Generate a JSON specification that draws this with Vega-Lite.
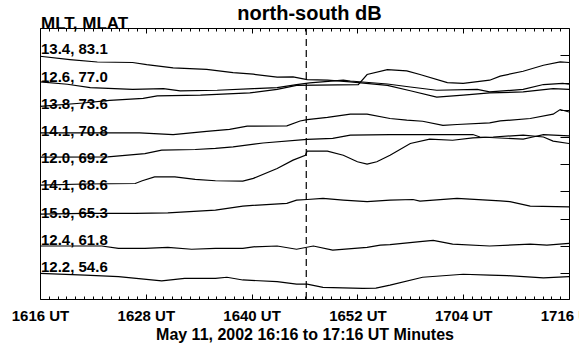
{
  "$schema": "https://vega.github.io/schema/vega-lite/v6.json",
  "width": 529,
  "height": 271,
  "autosize": {"type": "none"},
  "padding": {"left": 40, "top": 28, "right": 10, "bottom": 46},
  "background": "white",
  "config": {
    "font": "Liberation Sans",
    "view": {"stroke": "black", "strokeWidth": 1},
    "axis": {"domain": false, "grid": false, "tickColor": "black", "tickWidth": 1, "labelColor": "black", "titleColor": "black"}
  },
  "datasets": {
    "traces": [
      {"station": "13.4, 83.1", "minute": 0, "value": 8.97},
      {"station": "13.4, 83.1", "minute": 3.4, "value": 8.85},
      {"station": "13.4, 83.1", "minute": 6.5, "value": 8.76},
      {"station": "13.4, 83.1", "minute": 10.5, "value": 8.74},
      {"station": "13.4, 83.1", "minute": 12.1, "value": 8.66},
      {"station": "13.4, 83.1", "minute": 15.1, "value": 8.54},
      {"station": "13.4, 83.1", "minute": 18.9, "value": 8.49},
      {"station": "13.4, 83.1", "minute": 21.9, "value": 8.37},
      {"station": "13.4, 83.1", "minute": 24.2, "value": 8.31},
      {"station": "13.4, 83.1", "minute": 26.9, "value": 8.20},
      {"station": "13.4, 83.1", "minute": 28.7, "value": 8.21},
      {"station": "13.4, 83.1", "minute": 30.3, "value": 8.11},
      {"station": "13.4, 83.1", "minute": 32.6, "value": 8.09},
      {"station": "13.4, 83.1", "minute": 35.2, "value": 8.03},
      {"station": "13.4, 83.1", "minute": 39.4, "value": 7.90},
      {"station": "13.4, 83.1", "minute": 42.0, "value": 7.70},
      {"station": "13.4, 83.1", "minute": 45.0, "value": 7.47},
      {"station": "13.4, 83.1", "minute": 48.0, "value": 7.54},
      {"station": "13.4, 83.1", "minute": 51.0, "value": 7.62},
      {"station": "13.4, 83.1", "minute": 54.8, "value": 7.66},
      {"station": "13.4, 83.1", "minute": 58.2, "value": 7.78},
      {"station": "13.4, 83.1", "minute": 60, "value": 7.75},

      {"station": "12.6, 77.0", "minute": 0, "value": 8.03},
      {"station": "12.6, 77.0", "minute": 3.1, "value": 7.94},
      {"station": "12.6, 77.0", "minute": 5.7, "value": 7.82},
      {"station": "12.6, 77.0", "minute": 10.5, "value": 7.75},
      {"station": "12.6, 77.0", "minute": 14.0, "value": 7.78},
      {"station": "12.6, 77.0", "minute": 15.9, "value": 7.70},
      {"station": "12.6, 77.0", "minute": 20.1, "value": 7.72},
      {"station": "12.6, 77.0", "minute": 24.2, "value": 7.78},
      {"station": "12.6, 77.0", "minute": 26.9, "value": 7.82},
      {"station": "12.6, 77.0", "minute": 29.1, "value": 7.93},
      {"station": "12.6, 77.0", "minute": 30.6, "value": 7.99},
      {"station": "12.6, 77.0", "minute": 34.4, "value": 8.09},
      {"station": "12.6, 77.0", "minute": 35.2, "value": 8.06},
      {"station": "12.6, 77.0", "minute": 39.4, "value": 7.95},
      {"station": "12.6, 77.0", "minute": 42.0, "value": 7.84},
      {"station": "12.6, 77.0", "minute": 45.0, "value": 7.72},
      {"station": "12.6, 77.0", "minute": 49.6, "value": 7.75},
      {"station": "12.6, 77.0", "minute": 51.0, "value": 7.66},
      {"station": "12.6, 77.0", "minute": 54.8, "value": 7.75},
      {"station": "12.6, 77.0", "minute": 57.1, "value": 7.93},
      {"station": "12.6, 77.0", "minute": 59.3, "value": 7.97},
      {"station": "12.6, 77.0", "minute": 60, "value": 7.94},

      {"station": "13.8, 73.6", "minute": 0, "value": 7.13},
      {"station": "13.8, 73.6", "minute": 4.9, "value": 7.25},
      {"station": "13.8, 73.6", "minute": 7.9, "value": 7.35},
      {"station": "13.8, 73.6", "minute": 11.7, "value": 7.42},
      {"station": "13.8, 73.6", "minute": 13.3, "value": 7.51},
      {"station": "13.8, 73.6", "minute": 18.2, "value": 7.54},
      {"station": "13.8, 73.6", "minute": 23.8, "value": 7.62},
      {"station": "13.8, 73.6", "minute": 26.9, "value": 7.75},
      {"station": "13.8, 73.6", "minute": 29.1, "value": 7.90},
      {"station": "13.8, 73.6", "minute": 36.1, "value": 7.93},
      {"station": "13.8, 73.6", "minute": 37.1, "value": 8.30},
      {"station": "13.8, 73.6", "minute": 39.4, "value": 8.48},
      {"station": "13.8, 73.6", "minute": 41.6, "value": 8.43},
      {"station": "13.8, 73.6", "minute": 43.1, "value": 8.30},
      {"station": "13.8, 73.6", "minute": 46.2, "value": 8.00},
      {"station": "13.8, 73.6", "minute": 48.0, "value": 7.97},
      {"station": "13.8, 73.6", "minute": 51.0, "value": 8.09},
      {"station": "13.8, 73.6", "minute": 52.2, "value": 8.24},
      {"station": "13.8, 73.6", "minute": 54.8, "value": 8.42},
      {"station": "13.8, 73.6", "minute": 57.1, "value": 8.64},
      {"station": "13.8, 73.6", "minute": 59.0, "value": 8.76},
      {"station": "13.8, 73.6", "minute": 60, "value": 8.74},

      {"station": "14.1, 70.8", "minute": 0, "value": 6.15},
      {"station": "14.1, 70.8", "minute": 6.8, "value": 6.15},
      {"station": "14.1, 70.8", "minute": 11.3, "value": 6.15},
      {"station": "14.1, 70.8", "minute": 15.1, "value": 6.09},
      {"station": "14.1, 70.8", "minute": 18.9, "value": 6.21},
      {"station": "14.1, 70.8", "minute": 21.5, "value": 6.28},
      {"station": "14.1, 70.8", "minute": 23.5, "value": 6.40},
      {"station": "14.1, 70.8", "minute": 28.0, "value": 6.41},
      {"station": "14.1, 70.8", "minute": 29.5, "value": 6.59},
      {"station": "14.1, 70.8", "minute": 30.3, "value": 6.64},
      {"station": "14.1, 70.8", "minute": 32.6, "value": 6.72},
      {"station": "14.1, 70.8", "minute": 35.2, "value": 6.84},
      {"station": "14.1, 70.8", "minute": 37.1, "value": 6.84},
      {"station": "14.1, 70.8", "minute": 39.7, "value": 6.68},
      {"station": "14.1, 70.8", "minute": 41.6, "value": 6.62},
      {"station": "14.1, 70.8", "minute": 43.4, "value": 6.58},
      {"station": "14.1, 70.8", "minute": 45.7, "value": 6.43},
      {"station": "14.1, 70.8", "minute": 47.3, "value": 6.46},
      {"station": "14.1, 70.8", "minute": 51.0, "value": 6.52},
      {"station": "14.1, 70.8", "minute": 52.2, "value": 6.59},
      {"station": "14.1, 70.8", "minute": 55.6, "value": 6.68},
      {"station": "14.1, 70.8", "minute": 58.2, "value": 6.84},
      {"station": "14.1, 70.8", "minute": 59.0, "value": 7.01},
      {"station": "14.1, 70.8", "minute": 60, "value": 6.92},

      {"station": "12.0, 69.2", "minute": 0, "value": 5.26},
      {"station": "12.0, 69.2", "minute": 7.7, "value": 5.27},
      {"station": "12.0, 69.2", "minute": 11.9, "value": 5.39},
      {"station": "12.0, 69.2", "minute": 13.8, "value": 5.52},
      {"station": "12.0, 69.2", "minute": 17.6, "value": 5.54},
      {"station": "12.0, 69.2", "minute": 19.9, "value": 5.58},
      {"station": "12.0, 69.2", "minute": 21.9, "value": 5.64},
      {"station": "12.0, 69.2", "minute": 25.3, "value": 5.78},
      {"station": "12.0, 69.2", "minute": 30.3, "value": 5.91},
      {"station": "12.0, 69.2", "minute": 33.2, "value": 5.95},
      {"station": "12.0, 69.2", "minute": 35.2, "value": 6.07},
      {"station": "12.0, 69.2", "minute": 39.7, "value": 6.09},
      {"station": "12.0, 69.2", "minute": 49.1, "value": 6.09},
      {"station": "12.0, 69.2", "minute": 49.9, "value": 6.00},
      {"station": "12.0, 69.2", "minute": 54.8, "value": 5.92},
      {"station": "12.0, 69.2", "minute": 55.9, "value": 6.00},
      {"station": "12.0, 69.2", "minute": 57.1, "value": 6.09},
      {"station": "12.0, 69.2", "minute": 60, "value": 6.04},

      {"station": "14.1, 68.6", "minute": 0, "value": 4.23},
      {"station": "14.1, 68.6", "minute": 5.1, "value": 4.27},
      {"station": "14.1, 68.6", "minute": 10.8, "value": 4.29},
      {"station": "14.1, 68.6", "minute": 11.6, "value": 4.39},
      {"station": "14.1, 68.6", "minute": 13.0, "value": 4.53},
      {"station": "14.1, 68.6", "minute": 15.3, "value": 4.53},
      {"station": "14.1, 68.6", "minute": 17.6, "value": 4.44},
      {"station": "14.1, 68.6", "minute": 19.9, "value": 4.39},
      {"station": "14.1, 68.6", "minute": 23.0, "value": 4.38},
      {"station": "14.1, 68.6", "minute": 24.2, "value": 4.48},
      {"station": "14.1, 68.6", "minute": 26.9, "value": 4.84},
      {"station": "14.1, 68.6", "minute": 28.7, "value": 5.15},
      {"station": "14.1, 68.6", "minute": 30.1, "value": 5.33},
      {"station": "14.1, 68.6", "minute": 30.3, "value": 5.48},
      {"station": "14.1, 68.6", "minute": 32.6, "value": 5.48},
      {"station": "14.1, 68.6", "minute": 34.4, "value": 5.33},
      {"station": "14.1, 68.6", "minute": 36.0, "value": 5.09},
      {"station": "14.1, 68.6", "minute": 37.1, "value": 5.00},
      {"station": "14.1, 68.6", "minute": 38.2, "value": 5.09},
      {"station": "14.1, 68.6", "minute": 39.7, "value": 5.33},
      {"station": "14.1, 68.6", "minute": 42.0, "value": 5.76},
      {"station": "14.1, 68.6", "minute": 44.2, "value": 5.92},
      {"station": "14.1, 68.6", "minute": 46.8, "value": 5.88},
      {"station": "14.1, 68.6", "minute": 49.1, "value": 5.97},
      {"station": "14.1, 68.6", "minute": 51.4, "value": 6.00},
      {"station": "14.1, 68.6", "minute": 54.8, "value": 6.07},
      {"station": "14.1, 68.6", "minute": 57.1, "value": 6.00},
      {"station": "14.1, 68.6", "minute": 58.2, "value": 5.85},
      {"station": "14.1, 68.6", "minute": 60, "value": 5.76},

      {"station": "15.9, 65.3", "minute": 0, "value": 3.16},
      {"station": "15.9, 65.3", "minute": 5.1, "value": 3.19},
      {"station": "15.9, 65.3", "minute": 10.8, "value": 3.19},
      {"station": "15.9, 65.3", "minute": 14.5, "value": 3.21},
      {"station": "15.9, 65.3", "minute": 19.9, "value": 3.31},
      {"station": "15.9, 65.3", "minute": 23.0, "value": 3.46},
      {"station": "15.9, 65.3", "minute": 28.0, "value": 3.56},
      {"station": "15.9, 65.3", "minute": 29.1, "value": 3.68},
      {"station": "15.9, 65.3", "minute": 30.3, "value": 3.70},
      {"station": "15.9, 65.3", "minute": 32.1, "value": 3.74},
      {"station": "15.9, 65.3", "minute": 34.4, "value": 3.68},
      {"station": "15.9, 65.3", "minute": 37.1, "value": 3.62},
      {"station": "15.9, 65.3", "minute": 39.7, "value": 3.68},
      {"station": "15.9, 65.3", "minute": 42.3, "value": 3.70},
      {"station": "15.9, 65.3", "minute": 43.1, "value": 3.64},
      {"station": "15.9, 65.3", "minute": 47.3, "value": 3.74},
      {"station": "15.9, 65.3", "minute": 52.2, "value": 3.65},
      {"station": "15.9, 65.3", "minute": 53.3, "value": 3.62},
      {"station": "15.9, 65.3", "minute": 55.6, "value": 3.46},
      {"station": "15.9, 65.3", "minute": 60, "value": 3.43},

      {"station": "12.4, 61.8", "minute": 0, "value": 1.99},
      {"station": "12.4, 61.8", "minute": 7.0, "value": 1.99},
      {"station": "12.4, 61.8", "minute": 8.9, "value": 1.90},
      {"station": "12.4, 61.8", "minute": 11.9, "value": 1.90},
      {"station": "12.4, 61.8", "minute": 14.5, "value": 1.94},
      {"station": "12.4, 61.8", "minute": 17.2, "value": 1.87},
      {"station": "12.4, 61.8", "minute": 19.9, "value": 1.90},
      {"station": "12.4, 61.8", "minute": 23.0, "value": 1.90},
      {"station": "12.4, 61.8", "minute": 24.2, "value": 1.96},
      {"station": "12.4, 61.8", "minute": 26.9, "value": 1.99},
      {"station": "12.4, 61.8", "minute": 29.1, "value": 1.87},
      {"station": "12.4, 61.8", "minute": 31.0, "value": 1.99},
      {"station": "12.4, 61.8", "minute": 33.2, "value": 1.84},
      {"station": "12.4, 61.8", "minute": 37.1, "value": 1.94},
      {"station": "12.4, 61.8", "minute": 38.6, "value": 2.02},
      {"station": "12.4, 61.8", "minute": 39.7, "value": 2.04},
      {"station": "12.4, 61.8", "minute": 43.1, "value": 2.15},
      {"station": "12.4, 61.8", "minute": 44.6, "value": 2.20},
      {"station": "12.4, 61.8", "minute": 46.8, "value": 2.06},
      {"station": "12.4, 61.8", "minute": 51.0, "value": 1.99},
      {"station": "12.4, 61.8", "minute": 55.6, "value": 2.06},
      {"station": "12.4, 61.8", "minute": 57.5, "value": 2.02},
      {"station": "12.4, 61.8", "minute": 60, "value": 2.09},

      {"station": "12.2, 54.6", "minute": 0, "value": 0.98},
      {"station": "12.2, 54.6", "minute": 5.1, "value": 0.92},
      {"station": "12.2, 54.6", "minute": 8.9, "value": 0.86},
      {"station": "12.2, 54.6", "minute": 13.8, "value": 0.71},
      {"station": "12.2, 54.6", "minute": 16.4, "value": 0.80},
      {"station": "12.2, 54.6", "minute": 19.9, "value": 0.80},
      {"station": "12.2, 54.6", "minute": 21.2, "value": 0.84},
      {"station": "12.2, 54.6", "minute": 23.0, "value": 0.74},
      {"station": "12.2, 54.6", "minute": 26.9, "value": 0.68},
      {"station": "12.2, 54.6", "minute": 29.1, "value": 0.59},
      {"station": "12.2, 54.6", "minute": 30.3, "value": 0.59},
      {"station": "12.2, 54.6", "minute": 32.1, "value": 0.47},
      {"station": "12.2, 54.6", "minute": 36.6, "value": 0.43},
      {"station": "12.2, 54.6", "minute": 38.1, "value": 0.44},
      {"station": "12.2, 54.6", "minute": 39.7, "value": 0.55},
      {"station": "12.2, 54.6", "minute": 43.4, "value": 0.84},
      {"station": "12.2, 54.6", "minute": 48.0, "value": 0.95},
      {"station": "12.2, 54.6", "minute": 51.0, "value": 0.92},
      {"station": "12.2, 54.6", "minute": 53.0, "value": 0.90},
      {"station": "12.2, 54.6", "minute": 57.1, "value": 0.82},
      {"station": "12.2, 54.6", "minute": 60, "value": 0.86}
    ],
    "labels": [
      {"label": "13.4, 83.1", "level": 9, "minute": 0},
      {"label": "12.6, 77.0", "level": 8, "minute": 0},
      {"label": "13.8, 73.6", "level": 7, "minute": 0},
      {"label": "14.1, 70.8", "level": 6, "minute": 0},
      {"label": "12.0, 69.2", "level": 5, "minute": 0},
      {"label": "14.1, 68.6", "level": 4, "minute": 0},
      {"label": "15.9, 65.3", "level": 3, "minute": 0},
      {"label": "12.4, 61.8", "level": 2, "minute": 0},
      {"label": "12.2, 54.6", "level": 1, "minute": 0}
    ],
    "event": [{"minute": 30.2}]
  },
  "layer": [
    {
      "data": {"name": "traces"},
      "mark": {"type": "line", "color": "black", "strokeWidth": 1.2},
      "encoding": {
        "x": {
          "field": "minute", "type": "quantitative",
          "scale": {"domain": [0, 60], "nice": false, "zero": false},
          "axis": {
            "orient": "bottom",
            "values": [0,1,2,3,4,5,6,7,8,9,10,11,12,13,14,15,16,17,18,19,20,21,22,23,24,25,26,27,28,29,30,31,32,33,34,35,36,37,38,39,40,41,42,43,44,45,46,47,48,49,50,51,52,53,54,55,56,57,58,59,60],
            "tickSize": {"condition": {"test": "datum.value % 12 === 0", "value": -5}, "value": -3},
            "labelExpr": "datum.value === 0 ? '1616 UT' : datum.value === 12 ? '1628 UT' : datum.value === 24 ? '1640 UT' : datum.value === 36 ? '1652 UT' : datum.value === 48 ? '1704 UT' : datum.value === 60 ? '1716 UT' : ''",
            "labelOverlap": false,
            "labelFlush": false,
            "labelFont": "Liberation Sans",
            "labelFontSize": 15,
            "labelFontWeight": "bold",
            "labelPadding": 14,
            "title": "May 11, 2002 16:16 to 17:16 UT Minutes",
            "titleFont": "Liberation Sans",
            "titleFontSize": 16,
            "titleFontWeight": "bold",
            "titlePadding": 1
          }
        },
        "y": {
          "field": "value", "type": "quantitative",
          "scale": {"domain": [0.04, 10.01], "nice": false, "zero": false},
          "axis": {
            "orient": "left",
            "ticks": false,
            "labels": false,
            "title": "MLT, MLAT",
            "titleAngle": 0,
            "titleAlign": "left",
            "titleBaseline": "alphabetic",
            "titleX": 0.5,
            "titleY": 0,
            "titleFont": "Liberation Sans",
            "titleFontSize": 17,
            "titleFontWeight": "bold"
          }
        },
        "detail": {"field": "station", "type": "nominal"}
      }
    },
    {
      "data": {"name": "event"},
      "mark": {"type": "rule", "color": "black", "strokeWidth": 1.2, "strokeDash": [7, 4]},
      "encoding": {
        "x": {
          "field": "minute", "type": "quantitative",
          "axis": {
            "orient": "top",
            "values": [0,1,2,3,4,5,6,7,8,9,10,11,12,13,14,15,16,17,18,19,20,21,22,23,24,25,26,27,28,29,30,31,32,33,34,35,36,37,38,39,40,41,42,43,44,45,46,47,48,49,50,51,52,53,54,55,56,57,58,59,60],
            "tickSize": {"condition": {"test": "datum.value % 12 === 0", "value": -5}, "value": -3},
            "labels": false,
            "title": "north-south dB",
            "titleFont": "Liberation Sans",
            "titleFontSize": 20,
            "titleFontWeight": "bold",
            "titleAlign": "center",
            "titleBaseline": "alphabetic",
            "titleX": 269,
            "titleY": -8.5
          }
        }
      }
    },
    {
      "data": {"name": "labels"},
      "mark": {"type": "text", "align": "left", "baseline": "alphabetic", "dx": 1, "dy": -1, "font": "Liberation Sans", "fontSize": 15, "fontWeight": "bold", "color": "black"},
      "encoding": {
        "x": {"field": "minute", "type": "quantitative", "axis": null},
        "y": {
          "field": "level", "type": "quantitative",
          "axis": {
            "orient": "right",
            "values": [1,2,3,4,5,6,7,8,9],
            "tickSize": -9,
            "labels": false,
            "title": null
          }
        },
        "text": {"field": "label", "type": "nominal"}
      }
    }
  ],
  "resolve": {"axis": {"x": "independent", "y": "independent"}}
}
